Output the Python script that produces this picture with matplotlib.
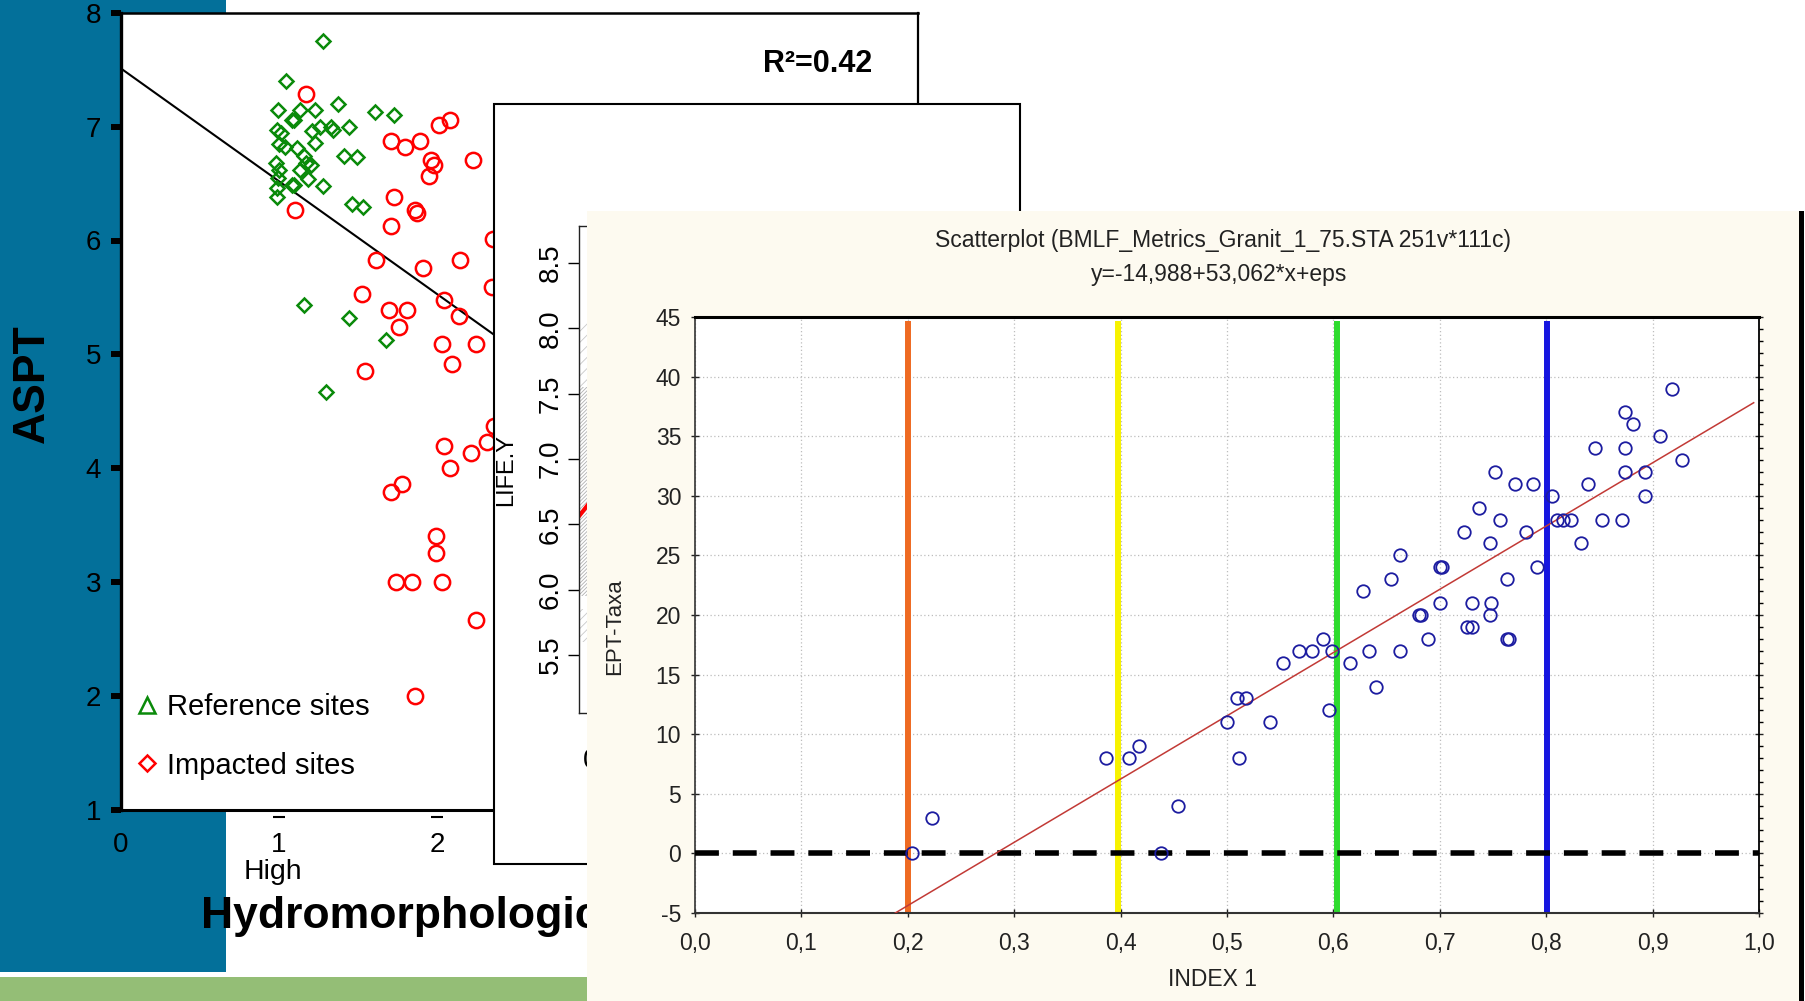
import matplotlib
matplotlib.use("Agg")
import matplotlib.pyplot as plt
from matplotlib.patches import Rectangle
from matplotlib.lines import Line2D
from matplotlib.ticker import MultipleLocator
import numpy as np

plt.rcParams['font.family'] = ['Liberation Sans', 'DejaVu Sans']
plt.rcParams['hatch.linewidth'] = 0.6

# ---------------- data: panel 1 (ASPT vs hydromorphological class) ----------------
ref_x = [1.276, 1.043, 0.994, 1.135, 1.225, 1.375, 1.610, 1.727, 1.080, 1.098,
         1.259, 1.331, 1.341, 1.443, 1.208, 0.985, 1.014, 1.002, 1.038, 1.225,
         1.114, 1.414, 1.494, 1.160, 1.172, 1.203, 0.978, 1.002, 1.135, 0.994,
         1.183, 1.082, 1.097, 0.990, 1.276, 0.990, 1.463, 1.530, 1.160, 1.443,
         1.675, 1.296]
ref_y = [7.75, 7.40, 7.15, 7.15, 7.15, 7.20, 7.13, 7.10, 7.06, 7.06,
         7.00, 7.00, 6.97, 7.00, 6.96, 6.97, 6.94, 6.85, 6.82, 6.86,
         6.81, 6.74, 6.73, 6.74, 6.68, 6.66, 6.68, 6.62, 6.62, 6.55,
         6.54, 6.49, 6.49, 6.46, 6.48, 6.38, 6.32, 6.29, 5.43, 5.32,
         5.13, 4.67]
imp_x = [1.172, 1.710, 1.795, 1.894, 2.012, 2.082, 2.230, 1.964, 1.978, 1.947,
         1.104, 1.729, 1.862, 1.874, 1.710, 1.613, 1.911, 2.145, 2.352, 2.347,
         1.528, 1.694, 1.813, 1.757, 2.043, 2.140, 2.031, 2.244, 2.097, 1.542,
         2.358, 2.043, 2.316, 2.213, 2.080, 1.710, 1.777, 1.995, 1.995, 1.741,
         1.843, 2.031, 2.244, 1.862]
imp_y = [7.29, 6.87, 6.82, 6.87, 7.01, 7.06, 6.71, 6.71, 6.66, 6.57,
         6.27, 6.38, 6.27, 6.24, 6.13, 5.83, 5.76, 5.83, 6.01, 5.59,
         5.53, 5.39, 5.39, 5.24, 5.48, 5.34, 5.09, 5.09, 4.92, 4.85,
         4.37, 4.20, 4.23, 4.13, 4.00, 3.79, 3.86, 3.41, 3.26, 3.00,
         3.00, 3.00, 2.67, 2.00]
aspt_intercept = 7.51
aspt_slope = -0.99
p1_xticks = [0, 1, 2, 3, 4, 5]
p1_yticks = [1, 2, 3, 4, 5, 6, 7, 8]
r2_text = "R\u00b2=0.42"

# ---------------- data: panel 2 (LIFE.Y, mostly hidden) ----------------
life_yticks = [5.5, 6.0, 6.5, 7.0, 7.5, 8.0, 8.5]
life_xticks = [0]
life_line_intercept = 6.68
life_line_slope = 0.59

# ---------------- data: panel 3 (Statistica scatterplot) ----------------
ept_x = [0.918, 0.874, 0.882, 0.907, 0.928, 0.846, 0.874, 0.874, 0.893, 0.893,
         0.752, 0.771, 0.788, 0.805, 0.839, 0.737, 0.757, 0.810, 0.816, 0.823,
         0.852, 0.871, 0.723, 0.781, 0.747, 0.833, 0.663, 0.700, 0.702, 0.791,
         0.654, 0.763, 0.628, 0.700, 0.730, 0.748, 0.747, 0.680, 0.682, 0.726,
         0.730, 0.689, 0.763, 0.765, 0.590, 0.568, 0.580, 0.599, 0.633, 0.663,
         0.553, 0.616, 0.640, 0.509, 0.518, 0.596, 0.500, 0.540, 0.417, 0.386,
         0.408, 0.511, 0.454, 0.223, 0.204, 0.438]
ept_y = [39, 37, 36, 35, 33, 34, 34, 32, 32, 30,
         32, 31, 31, 30, 31, 29, 28, 28, 28, 28,
         28, 28, 27, 27, 26, 26, 25, 24, 24, 24,
         23, 23, 22, 21, 21, 21, 20, 20, 20, 19,
         19, 18, 18, 18, 18, 17, 17, 17, 17, 17,
         16, 16, 14, 13, 13, 12, 11, 11, 9, 8,
         8, 8, 4, 3, 0, 0]
ept_intercept = -14.988
ept_slope = 53.062
class_bounds = [0.2, 0.398, 0.603, 0.801]
class_colors = ['#EE6A22', '#F7F200', '#2EDB2E', '#1515E0']
p3_xticks = [0.0, 0.1, 0.2, 0.3, 0.4, 0.5, 0.6, 0.7, 0.8, 0.9, 1.0]
p3_yticks = [-5, 0, 5, 10, 15, 20, 25, 30, 35, 40, 45]

# ---------------- figure / layout helpers ----------------
W, H = 1806, 1001
fig = plt.figure(figsize=(W / 100, H / 100), dpi=100)
fig.patch.set_facecolor('white')


def fbox(l, t, r, b):
    return [l / W, 1 - b / H, (r - l) / W, (b - t) / H]


def rect(l, t, r, b, color, z, edge='none', lw=0):
    fig.add_artist(Rectangle((l / W, 1 - b / H), (r - l) / W, (b - t) / H,
                             transform=fig.transFigure, facecolor=color,
                             edgecolor=edge, linewidth=lw, zorder=z))


def ftext(x, y, s, **kw):
    return fig.text(x / W, 1 - y / H, s, **kw)


# slide decoration
rect(0, 0, 226, 972, '#03709A', 0)
rect(0, 977, 587, 1001, '#94BE76', 0)

# ---------------- panel 1 ----------------
ax1 = fig.add_axes(fbox(121, 12.7, 918, 810), zorder=1)
ax1.set_facecolor('white')
ax1.set_xlim(0, 5.044)
ax1.set_ylim(1, 8)
lx = np.array([0, 5.044])
ax1.plot(lx, aspt_intercept + aspt_slope * lx, color='black', lw=1.5, zorder=2)
ax1.plot(ref_x, ref_y, ls='none', marker='D', ms=7.3, mfc='none',
         mec='#0A8A0A', mew=1.8, zorder=3)
ax1.plot(imp_x, imp_y, ls='none', marker='o', ms=11, mfc='none',
         mec='#FF0000', mew=1.8, zorder=3)
for s, w in (('left', 2.4), ('bottom', 2.2), ('top', 1.8), ('right', 1.6)):
    ax1.spines[s].set_linewidth(w)
    ax1.spines[s].set_color('black')
ax1.set_yticks(p1_yticks)
ax1.set_yticklabels([str(v) for v in p1_yticks])
ax1.tick_params(axis='y', length=7.2, width=4.3, direction='out',
                labelsize=20, pad=7, color='black')
ax1.set_xticks(p1_xticks)
ax1.set_xticklabels([str(v) for v in p1_xticks])
ax1.tick_params(axis='x', length=0, labelsize=20, pad=16)
ax1.plot(p1_xticks[1:], [-0.009] * len(p1_xticks[1:]), ls='none', marker='_',
         ms=8, mew=1.5, color='black', clip_on=False,
         transform=ax1.get_xaxis_transform())
handles = [Line2D([], [], ls='none', marker='^', ms=12, mfc='none', mec='#0A8A0A', mew=1.8),
           Line2D([], [], ls='none', marker='D', ms=8.5, mfc='none', mec='#FF0000', mew=1.8)]
ax1.legend(handles, ['Reference sites', 'Impacted sites'], loc='lower left',
           bbox_to_anchor=(0.0144, 0.038), frameon=False, fontsize=21,
           handlelength=1.0, handletextpad=0.2, labelspacing=1.05,
           borderpad=0, borderaxespad=0)

ftext(818, 64, r2_text, fontsize=22, fontweight='bold', ha='center', va='center', zorder=1.5)
ftext(32, 384, 'ASPT', fontsize=32, fontweight='bold', rotation=90,
      ha='center', va='center', zorder=1.5)
ftext(273, 872, 'High', fontsize=20.5, ha='center', va='center', zorder=1.5)
ftext(201, 928, 'Hydromorphological', fontsize=32, fontweight='bold',
      ha='left', va='baseline', zorder=1.5)

# ---------------- panel 2 ----------------
rect(494, 104, 1020, 864, 'white', 2, edge='black', lw=1.5)
ax2 = fig.add_axes(fbox(579, 226, 1000, 713), zorder=2.5)
ax2.set_facecolor('none')
ax2.set_xlim(-0.2, 6.8)
ax2.set_ylim(5.056, 8.783)
ax2.fill_betweenx([5.95, 7.55], -0.2, 1.0, hatch='/' * 9, facecolor='none',
                  edgecolor='#B0B0B0', linewidth=0)
ax2.fill_betweenx([7.55, 8.05], -0.2, 1.0, hatch='/' * 3, facecolor='none',
                  edgecolor='#C8C8C8', linewidth=0)
ax2.fill_betweenx([5.6, 5.85], -0.2, 1.0, hatch='/' * 4, facecolor='none',
                  edgecolor='#C8C8C8', linewidth=0)
l2 = np.array([-0.2, 6.8])
ax2.plot(l2, life_line_intercept + life_line_slope * l2, color='#FF0000', lw=3)
for s in ax2.spines.values():
    s.set_linewidth(1.0)
    s.set_color('#222222')
ax2.set_yticks(life_yticks)
ax2.set_yticklabels([f"{v:.1f}" for v in life_yticks])
ax2.tick_params(axis='y', length=8, width=1.0, labelsize=20, pad=3)
for lbl in ax2.get_yticklabels():
    lbl.set_rotation(90)
    lbl.set_va('center')
ax2.set_xticks(life_xticks)
ax2.set_xticklabels([str(v) for v in life_xticks])
ax2.tick_params(axis='x', length=8, width=1.0, labelsize=20, pad=17)
ftext(506, 470, 'LIFE.Y', fontsize=17, rotation=90, ha='center', va='center', zorder=2.6)

# ---------------- panel 3 ----------------
rect(587, 211, 1799, 1001, '#FDFAF0', 3)
rect(1799, 211, 1804, 1001, 'black', 3.1)
ax3 = fig.add_axes(fbox(695, 317, 1759, 913), zorder=3.5)
ax3.set_facecolor('white')
ax3.set_xlim(0, 1)
ax3.set_ylim(-5, 45)
ax3.set_axisbelow(True)
ax3.grid(True, ls=(0, (1, 2)), color='#BDBDBD', lw=0.9)
for xb, c in zip(class_bounds, class_colors):
    ax3.vlines(xb, -5, 44.7, color=c, lw=4.3, zorder=2)
ax3.axhline(0, color='black', lw=4, dashes=(4.3, 2.5), zorder=3)
x0 = (-5 - ept_intercept) / ept_slope
rx = np.array([x0, 0.995])
ax3.plot(rx, ept_intercept + ept_slope * rx, color='#C23A36', lw=1.1, zorder=4)
ax3.plot(ept_x, ept_y, ls='none', marker='o', ms=9, mfc='none',
         mec='#1C1CA0', mew=1.3, zorder=5)
ax3.set_xticks(p3_xticks)
ax3.set_xticklabels([f"{v:.1f}".replace('.', ',') for v in p3_xticks])
ax3.set_yticks(p3_yticks)
ax3.set_yticklabels([str(v) for v in p3_yticks])
ax3.yaxis.set_minor_locator(MultipleLocator(1))
ax3.tick_params(axis='both', which='major', direction='inout', length=6,
                width=1.0, color='#222222', labelsize=16.5, labelcolor='#222222')
ax3.tick_params(axis='x', which='major', pad=11)
ax3.tick_params(axis='y', which='major', pad=7, right=True)
ax3.tick_params(axis='y', which='minor', left=False, right=True,
                direction='out', length=3, width=1.0, color='black')
for s, w, c in (('top', 2.2, 'black'), ('left', 1.2, '#333333'),
                ('bottom', 1.5, '#333333'), ('right', 1.3, 'black')):
    ax3.spines[s].set_linewidth(w)
    ax3.spines[s].set_color(c)

ftext(1223, 240, 'Scatterplot (BMLF_Metrics_Granit_1_75.STA 251v*111c)',
      fontsize=16.5, ha='center', va='center', color='#222222', zorder=3.2)
ftext(1219, 275, 'y=-14,988+53,062*x+eps', fontsize=16.5, ha='center',
      va='center', color='#222222', zorder=3.2)
ftext(615, 627, 'EPT-Taxa', fontsize=16, rotation=90, ha='center',
      va='center', color='#222222', zorder=3.2)
ftext(1213, 979, 'INDEX 1', fontsize=16.5, ha='center', va='center',
      color='#222222', zorder=3.2)

fig.savefig('out.png', dpi=100)
